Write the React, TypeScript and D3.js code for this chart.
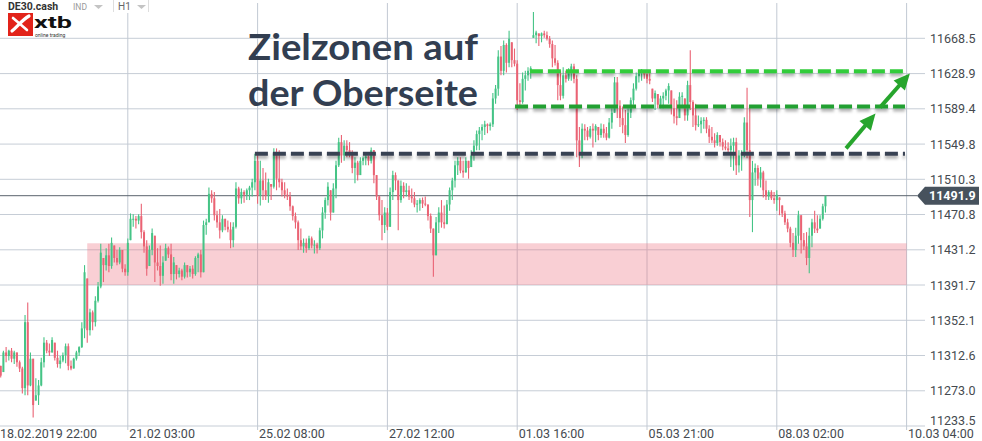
import React from "react";
import * as d3 from "d3";

// ---- data (DE30.cash, H1) ----
const firstOpen = 11310;
const highs = [
  11301, 11318, 11322, 11319, 11321, 11318, 11316, 11307, 11300, 11358,
  11372, 11316, 11309, 11287, 11285, 11310, 11333, 11330, 11326, 11333,
  11327, 11318, 11312, 11316, 11326, 11326, 11307, 11310, 11318, 11323,
  11350, 11414, 11399, 11365, 11363, 11379, 11395, 11438, 11422, 11433,
  11438, 11445, 11436, 11431, 11434, 11431, 11415, 11444, 11472, 11471,
  11469, 11471, 11483, 11453, 11442, 11436, 11455, 11447, 11433, 11436,
  11424, 11438, 11435, 11438, 11423, 11414, 11411, 11410, 11417, 11414,
  11413, 11414, 11424, 11428, 11431, 11464, 11466, 11501, 11498, 11496,
  11475, 11477, 11470, 11466, 11464, 11462, 11462, 11507, 11502, 11500,
  11498, 11500, 11503, 11511, 11539, 11539, 11531, 11523, 11518, 11511,
  11505, 11545, 11545, 11543, 11511, 11507, 11500, 11496, 11481, 11473,
  11464, 11455, 11444, 11444, 11447, 11446, 11442, 11439, 11456, 11479,
  11490, 11507, 11498, 11506, 11531, 11557, 11560, 11554, 11554, 11552,
  11543, 11535, 11531, 11535, 11536, 11539, 11537, 11546, 11543, 11515,
  11492, 11487, 11479, 11478, 11501, 11520, 11518, 11509, 11509, 11507,
  11506, 11503, 11500, 11496, 11487, 11489, 11490, 11491, 11482, 11472,
  11455, 11468, 11479, 11487, 11481, 11487, 11501, 11512, 11531, 11535,
  11535, 11531, 11535, 11531, 11543, 11554, 11565, 11569, 11572, 11576,
  11573, 11574, 11607, 11616, 11655, 11660, 11666, 11663, 11677, 11664,
  11657, 11644, 11618, 11630, 11632, 11636, 11637, 11698, 11677, 11674,
  11675, 11677, 11676, 11671, 11666, 11661, 11644, 11632, 11636, 11632,
  11635, 11640, 11640, 11627, 11569, 11573, 11572, 11569, 11570, 11573,
  11572, 11569, 11573, 11572, 11569, 11579, 11590, 11625, 11625, 11599,
  11592, 11588, 11590, 11602, 11618, 11630, 11632, 11634, 11632, 11632,
  11630, 11612, 11610, 11606, 11604, 11608, 11612, 11618, 11610, 11601,
  11599, 11608, 11608, 11601, 11621, 11655, 11599, 11595, 11582, 11580,
  11580, 11580, 11571, 11569, 11562, 11563, 11560, 11556, 11554, 11552,
  11556, 11557, 11557, 11543, 11543, 11580, 11613, 11591, 11531, 11528,
  11526, 11524, 11520, 11509, 11498, 11498, 11496, 11498, 11490, 11481,
  11475, 11466, 11457, 11450, 11456, 11475, 11470, 11450, 11451, 11456,
  11466, 11475, 11470, 11470, 11483, 11492,
];
const lows = [
  11288, 11294, 11305, 11307, 11305, 11303, 11300, 11294, 11270, 11268,
  11268, 11278, 11243, 11262, 11257, 11278, 11299, 11315, 11312, 11316,
  11307, 11299, 11298, 11305, 11304, 11296, 11296, 11298, 11307, 11312,
  11321, 11332, 11327, 11335, 11341, 11345, 11372, 11388, 11395, 11408,
  11406, 11410, 11417, 11414, 11415, 11406, 11402, 11402, 11442, 11457,
  11455, 11460, 11444, 11428, 11402, 11413, 11425, 11395, 11408, 11391,
  11393, 11419, 11422, 11397, 11393, 11398, 11400, 11397, 11399, 11400,
  11401, 11399, 11402, 11406, 11400, 11406, 11448, 11462, 11484, 11464,
  11456, 11444, 11451, 11453, 11451, 11433, 11434, 11455, 11483, 11483,
  11484, 11487, 11487, 11491, 11498, 11483, 11481, 11487, 11487, 11484,
  11487, 11500, 11498, 11501, 11491, 11489, 11487, 11475, 11464, 11455,
  11431, 11431, 11428, 11428, 11431, 11433, 11427, 11427, 11431, 11444,
  11466, 11481, 11464, 11473, 11489, 11524, 11529, 11531, 11535, 11535,
  11517, 11506, 11509, 11515, 11526, 11526, 11526, 11528, 11506, 11487,
  11464, 11442, 11450, 11453, 11457, 11487, 11498, 11453, 11484, 11489,
  11491, 11487, 11484, 11479, 11473, 11475, 11478, 11480, 11464, 11450,
  11401, 11425, 11450, 11456, 11455, 11460, 11475, 11487, 11501, 11515,
  11517, 11512, 11518, 11511, 11524, 11531, 11543, 11543, 11554, 11560,
  11562, 11565, 11569, 11595, 11604, 11627, 11627, 11630, 11636, 11636,
  11637, 11588, 11593, 11595, 11610, 11621, 11623, 11669, 11663, 11660,
  11664, 11669, 11666, 11658, 11636, 11638, 11599, 11599, 11601, 11619,
  11621, 11621, 11618, 11535, 11524, 11534, 11554, 11554, 11556, 11546,
  11552, 11554, 11557, 11557, 11554, 11556, 11567, 11585, 11579, 11569,
  11562, 11551, 11558, 11579, 11594, 11610, 11619, 11621, 11623, 11618,
  11617, 11597, 11588, 11590, 11590, 11590, 11599, 11595, 11583, 11573,
  11571, 11579, 11593, 11576, 11576, 11588, 11569, 11565, 11569, 11562,
  11567, 11562, 11551, 11551, 11546, 11548, 11547, 11543, 11543, 11539,
  11524, 11520, 11515, 11518, 11520, 11535, 11534, 11468, 11451, 11503,
  11503, 11501, 11490, 11487, 11487, 11487, 11483, 11475, 11470, 11468,
  11459, 11451, 11434, 11423, 11423, 11438, 11427, 11431, 11414, 11405,
  11434, 11450, 11450, 11455, 11464, 11473,
];
const closes = [
  11290, 11316, 11312, 11318, 11309, 11316, 11305, 11298, 11276, 11350,
  11279, 11309, 11257, 11268, 11279, 11305, 11327, 11318, 11316, 11330,
  11310, 11303, 11307, 11313, 11323, 11301, 11298, 11309, 11316, 11322,
  11343, 11406, 11341, 11361, 11350, 11374, 11390, 11428, 11414, 11425,
  11413, 11439, 11422, 11417, 11431, 11410, 11406, 11439, 11466, 11466,
  11464, 11469, 11451, 11435, 11410, 11431, 11450, 11417, 11413, 11402,
  11417, 11433, 11426, 11404, 11417, 11404, 11408, 11401, 11414, 11406,
  11410, 11404, 11422, 11426, 11406, 11459, 11462, 11494, 11489, 11470,
  11462, 11453, 11466, 11457, 11454, 11442, 11457, 11500, 11489, 11496,
  11493, 11498, 11501, 11507, 11531, 11492, 11509, 11498, 11492, 11507,
  11502, 11540, 11511, 11507, 11498, 11493, 11491, 11480, 11469, 11462,
  11442, 11435, 11439, 11433, 11444, 11436, 11437, 11433, 11453, 11473,
  11487, 11502, 11473, 11500, 11526, 11552, 11537, 11548, 11543, 11540,
  11523, 11529, 11515, 11531, 11534, 11536, 11531, 11543, 11515, 11491,
  11470, 11459, 11473, 11457, 11496, 11515, 11509, 11487, 11503, 11496,
  11498, 11491, 11489, 11482, 11483, 11487, 11483, 11482, 11469, 11455,
  11425, 11462, 11473, 11462, 11460, 11482, 11498, 11509, 11526, 11531,
  11520, 11518, 11531, 11523, 11537, 11548, 11561, 11565, 11569, 11572,
  11570, 11572, 11601, 11612, 11648, 11632, 11661, 11641, 11668, 11644,
  11640, 11599, 11597, 11623, 11627, 11632, 11635, 11672, 11675, 11671,
  11674, 11672, 11668, 11662, 11646, 11641, 11616, 11604, 11627, 11623,
  11630, 11637, 11623, 11554, 11537, 11567, 11565, 11558, 11567, 11565,
  11570, 11560, 11567, 11562, 11557, 11574, 11585, 11619, 11593, 11579,
  11571, 11560, 11585, 11599, 11612, 11626, 11630, 11631, 11628, 11623,
  11621, 11601, 11607, 11594, 11601, 11604, 11610, 11615, 11590, 11581,
  11579, 11603, 11604, 11582, 11616, 11597, 11582, 11571, 11572, 11576,
  11577, 11567, 11558, 11554, 11551, 11560, 11552, 11547, 11545, 11543,
  11548, 11552, 11526, 11537, 11540, 11574, 11543, 11487, 11518, 11523,
  11511, 11518, 11498, 11491, 11496, 11489, 11487, 11493, 11487, 11472,
  11462, 11455, 11439, 11431, 11447, 11470, 11442, 11435, 11422, 11447,
  11462, 11455, 11453, 11466, 11480, 11491.9,
];

const yTicks = [11233.5, 11273.0, 11312.6, 11352.1, 11391.7, 11431.2, 11470.8, 11510.3, 11549.8, 11589.4, 11628.9, 11668.5];
const xTickIndex = [0, 48, 96, 144, 192, 240, 288, 336];
const xTickLabels = ["18.02.2019 22:00", "21.02 03:00", "25.02 08:00", "27.02 12:00", "01.03 16:00", "05.03 21:00", "08.03 02:00", "10.03 04:00"];

// support zone (index range, value range)
const zoneIndex = [33, 336];
const zoneValues = [11391.7, 11438.5];
// dashed levels
const levelValues = [11539, 11592, 11631.5];
const levelStart = [95, 191.2, 196.7];
const levelEnd = 335.4;
// arrows [index, value]
const arrowFrom = [[313.6, 11545], [326.2, 11591]];
const arrowTo = [[324.5, 11584], [337.2, 11629]];

const titleLines = ["Zielzonen auf", "der Oberseite"];
const lastPrice = 11491.9;

const W = 982;
const H = 441;

export default function App() {
  const x = d3.scaleLinear().domain([0, 336]).range([-2, 906.6]);
  const y = d3.scaleLinear().domain([11233.5, 11668.5]).range([426, 38.3]);
  const font = "Roboto, 'Noto Sans', sans-serif";
  const green = "#45c486";
  const red = "#ea6374";
  const levelColors = ["#394253", "#23a032", "#33cc3a"];

  const bars = closes.map((c, k) => {
    const o = k === 0 ? firstOpen : closes[k - 1];
    const i = k + 1;
    const hi = highs[k];
    const lo = lows[k];
    const up = c >= o;
    const ob = Math.min(hi, Math.max(lo, o));
    const top = y(Math.max(ob, c));
    const bot = y(Math.min(ob, c));
    return { i, hi, lo, up, top, bot };
  });

  const py = y(lastPrice);

  const arrows = arrowFrom.map((f, k) => {
    const x1 = x(f[0]);
    const y1 = y(f[1]);
    const x2 = x(arrowTo[k][0]);
    const y2 = y(arrowTo[k][1]);
    const ang = Math.atan2(y2 - y1, x2 - x1);
    const hl = 16;
    const hw = 7.5;
    const bx = x2 - hl * Math.cos(ang);
    const by = y2 - hl * Math.sin(ang);
    const px = -Math.sin(ang);
    const pyv = Math.cos(ang);
    const head = `M${x2},${y2} L${bx + hw * px},${by + hw * pyv} L${bx - hw * px},${by - hw * pyv} Z`;
    return { x1, y1, bx: x2 - (hl - 2) * Math.cos(ang), by: y2 - (hl - 2) * Math.sin(ang), head };
  });

  return (
    <div style={{ position: "absolute", left: 0, top: 0 }}>
      <svg width={W} height={H} style={{ display: "block", background: "#fff" }} fontFamily={font}>
        <defs>
          <filter id="sh" filterUnits="userSpaceOnUse" x={0} y={0} width={W} height={H}>
            <feDropShadow dx="0" dy="3" stdDeviation="1.8" floodColor="#000" floodOpacity="0.3" />
          </filter>
        </defs>
        <rect x={0} y={0} width={W} height={H} fill="#fff" />

        {/* grid */}
        {yTicks.map((v) => (
          <line key={"h" + v} x1={0} x2={925} y1={y(v)} y2={y(v)} stroke="#c6cdd6" strokeWidth={1} />
        ))}
        {xTickIndex.map((t) => (
          <line key={"v" + t} x1={x(t)} x2={x(t)} y1={3} y2={430} stroke="#c2c9d3" strokeWidth={1} />
        ))}

        {/* support zone */}
        <rect
          x={x(zoneIndex[0])}
          width={x(zoneIndex[1]) - x(zoneIndex[0])}
          y={y(zoneValues[1])}
          height={y(zoneValues[0]) - y(zoneValues[1])}
          fill="rgba(236, 110, 125, 0.33)"
        />

        {/* last price line */}
        <line x1={0} x2={917} y1={py} y2={py} stroke="#5a636d" strokeWidth={1} />

        {/* bars */}
        {bars.map((b) => (
          <g key={b.i}>
            <line x1={x(b.i)} x2={x(b.i)} y1={y(b.hi)} y2={y(b.lo)} stroke={b.up ? green : red} strokeWidth={1.1} />
            <rect
              x={x(b.i) - 1}
              width={2}
              y={b.top}
              height={Math.max(1, b.bot - b.top)}
              fill={b.up ? green : red}
            />
          </g>
        ))}

        {/* dashed levels */}
        <g filter="url(#sh)">
          {levelValues.map((v, k) => (
            <line
              key={"l" + k}
              x1={x(levelStart[k])}
              x2={x(levelEnd)}
              y1={y(v)}
              y2={y(v)}
              stroke={levelColors[k]}
              strokeWidth={4}
              strokeDasharray="13 5"
            />
          ))}
        </g>

        {/* arrows */}
        {arrows.map((a, k) => (
          <g key={"a" + k} fill="#27a52d" stroke="#27a52d">
            <line x1={a.x1} y1={a.y1} x2={a.bx} y2={a.by} strokeWidth={4} />
            <path d={a.head} stroke="none" />
          </g>
        ))}

        {/* title */}
        {titleLines.map((t, k) => (
          <text
            key={t}
            x={248}
            y={60 + k * 46}
            fontFamily="Lato, 'Open Sans', sans-serif"
            fontWeight={700}
            fontSize={37}
            fill="#323e51"
            textLength={230}
            lengthAdjust="spacingAndGlyphs"
          >
            {t}
          </text>
        ))}

        {/* y labels */}
        {yTicks.map((v) => (
          <text key={"yl" + v} x={930} y={Math.min(y(v), 420) + 4.5} fontSize={12.5} fill="#454a50">
            {v.toFixed(1)}
          </text>
        ))}

        {/* price tag */}
        <path
          d={`M917,${py} L925,${py - 9} L979,${py - 9} L979,${py + 9} L925,${py + 9} Z`}
          fill="#47525d"
        />
        <text x={929} y={py + 4.5} fontSize={12.5} fontWeight={700} fill="#fff">
          {lastPrice.toFixed(1)}
        </text>

        {/* x labels */}
        {xTickIndex.map((t, k) => (
          <text key={"xl" + t} x={Math.max(0, x(t) + 1.5)} y={438} fontSize={12.5} fill="#454a50">
            {xTickLabels[k]}
          </text>
        ))}

        {/* header */}
        <rect x={0} y={0} width={150} height={13} fill="#fff" />
        <text x={8} y={9.5} fontSize={10.5} fontWeight={700} fill="#333">DE30.cash</text>
        <text x={73} y={9.5} fontSize={8.5} fill="#9a9a9a">IND</text>
        <path d="M94,5 L103,5 L98.5,9 Z" fill="#c4c4c4" />
        <line x1={113.5} x2={113.5} y1={0} y2={12} stroke="#dedede" />
        <text x={118} y={9.5} fontSize={10} fill="#666">H1</text>
        <path d="M137,5 L146,5 L141.5,9 Z" fill="#c4c4c4" />
        <line x1={148.5} x2={148.5} y1={0} y2={12} stroke="#dedede" />

        {/* logo */}
        <rect x={4} y={13} width={123} height={24} fill="#fff" />
        <rect x={8} y={13} width={25} height={23} fill="#e2231a" />
        <path d="M12,31 C17,27 22,20 29,16" stroke="#fff" strokeWidth={3.2} fill="none" strokeLinecap="round" />
        <path d="M13,18 L27,30" stroke="#fff" strokeWidth={2.6} fill="none" strokeLinecap="round" />
        <text x={34} y={28} fontSize={17} fontWeight={700} fill="#111" textLength={38} lengthAdjust="spacingAndGlyphs">
          xtb
        </text>
        <text x={35} y={36.5} fontSize={5} fill="#333">online trading</text>
      </svg>
    </div>
  );
}
